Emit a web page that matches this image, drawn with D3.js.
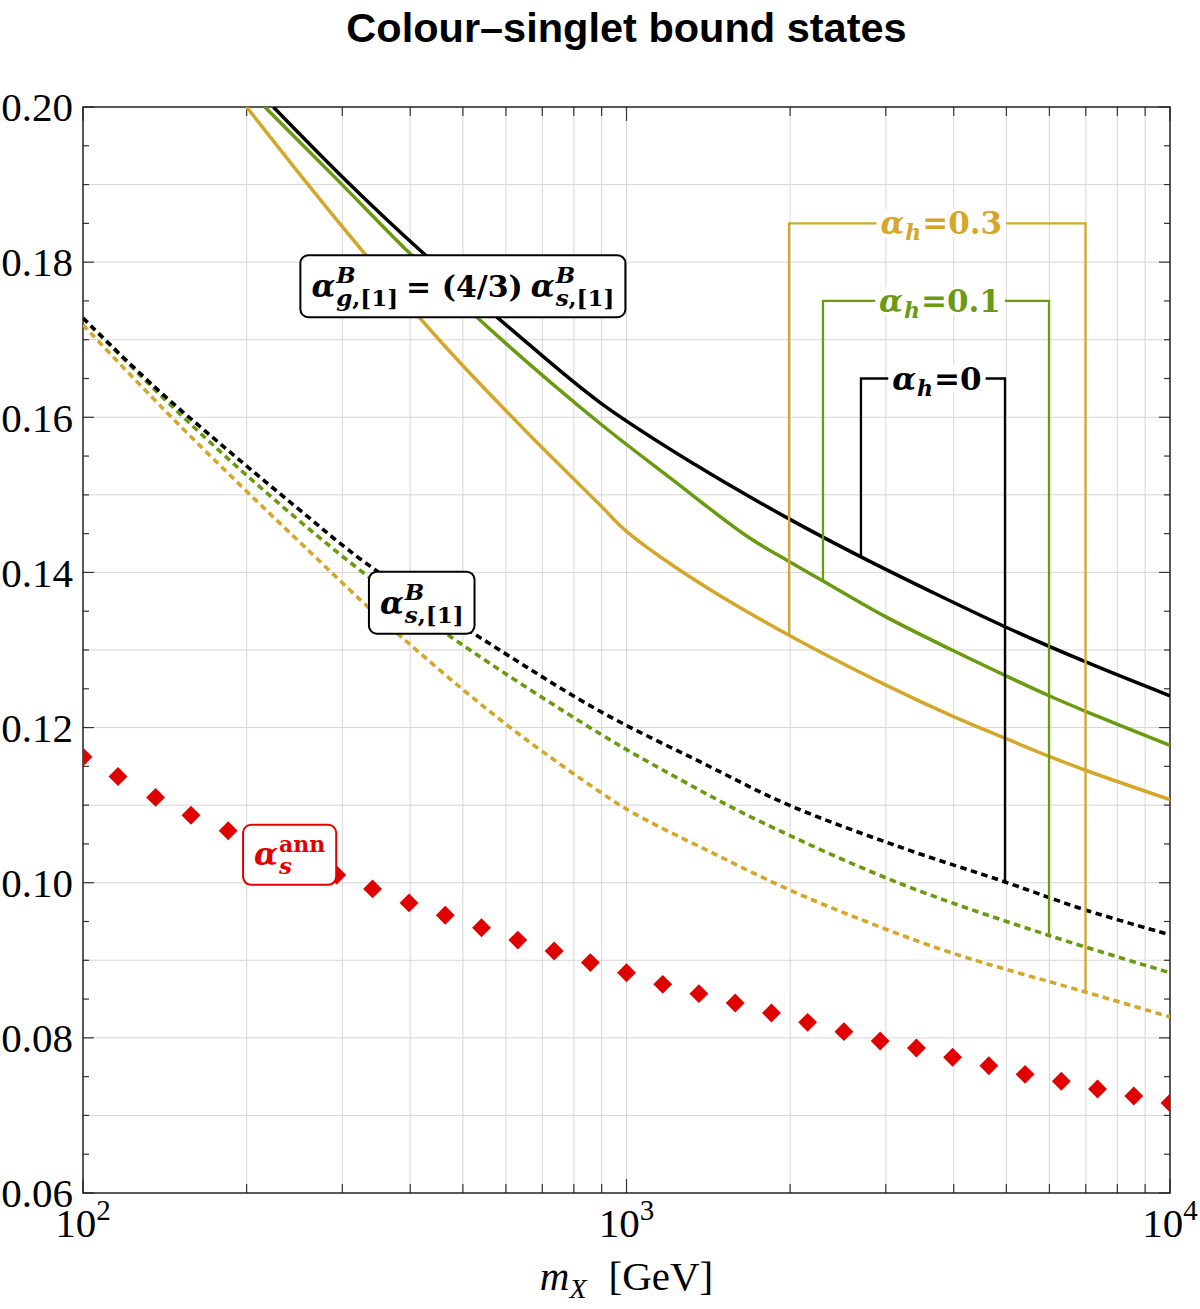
<!DOCTYPE html>
<html>
<head>
<meta charset="utf-8">
<title>Colour-singlet bound states</title>
<script src="https://d3js.org/d3.v7.min.js"></script>
<style>
*{margin:0;padding:0;}
body{background:#fff;}
</style>
</head>
<body>
<script>
var width = 1200, height = 1309;

// alpha_h = 0 (black), solid = alpha_g^B, dotted = alpha_s^B
var massSolid0  = [224, 306, 419, 610, 894, 1337, 1991, 2700, 3664, 4970, 7036, 10000];
var alphaSolid0 = [0.2000, 0.1904, 0.1814, 0.1715, 0.1619, 0.1539, 0.1469, 0.1420, 0.1374, 0.1330, 0.1284, 0.1241];
var massDot0    = [100, 135, 183, 247, 333, 549, 894, 1365, 1991, 3186, 4970, 6977, 10000];
var alphaDot0   = [0.1728, 0.1640, 0.1560, 0.1484, 0.1411, 0.1312, 0.1221, 0.1156, 0.1100, 0.1046, 0.1001, 0.0965, 0.0933];

// alpha_h = 0.1 (green)
var massSolid1  = [216, 292, 397, 585, 894, 1213, 1656, 1991, 2299, 2996, 3997, 4981, 5990, 6991, 10000];
var alphaSolid1 = [0.2000, 0.1908, 0.1813, 0.1702, 0.1592, 0.1520, 0.1448, 0.1414, 0.1389, 0.1343, 0.1299, 0.1267, 0.1241, 0.1221, 0.1177];
var massDot1    = [100, 134, 180, 242, 326, 484, 894, 1255, 1761, 3186, 5990, 10000];
var alphaDot1   = [0.1728, 0.1639, 0.1554, 0.1475, 0.1401, 0.1313, 0.1192, 0.1133, 0.1079, 0.0999, 0.0932, 0.0884];

// alpha_h = 0.3 (gold)
var massSolid3  = [200, 256, 328, 467, 651, 894, 1000, 1365, 1991, 2996, 3997, 4981, 5990, 6991, 10000];
var alphaSolid3 = [0.2000, 0.1905, 0.1813, 0.1689, 0.1583, 0.1487, 0.1453, 0.1386, 0.1319, 0.1255, 0.1214, 0.1186, 0.1163, 0.1145, 0.1107];
var massDot3    = [100, 140, 197, 254, 328, 388, 498, 641, 894, 1028, 1424, 1991, 2805, 3988, 6917, 10000];
var alphaDot3   = [0.1719, 0.1612, 0.1509, 0.1435, 0.1361, 0.1315, 0.1250, 0.1189, 0.1117, 0.1090, 0.1040, 0.0991, 0.0948, 0.0909, 0.0860, 0.0827];

// alpha_s^ann (red diamonds)
var massAnn  = [100, 116, 136, 158, 185, 215, 251, 293, 341, 398, 464, 541, 631, 736, 858, 1000,
                1166, 1359, 1585, 1848, 2154, 2512, 2929, 3415, 3981, 4642, 5412, 6310, 7356, 8577, 10000];
var alphaAnn = [0.1162, 0.1137, 0.1110, 0.1087, 0.1067, 0.1048, 0.1029, 0.1010, 0.0992, 0.0974, 0.0958,
                0.0942, 0.0926, 0.0912, 0.0897, 0.0884, 0.0869, 0.0857, 0.0845, 0.0832, 0.0820, 0.0808,
                0.0796, 0.0787, 0.0775, 0.0764, 0.0753, 0.0744, 0.0734, 0.0725, 0.0716];

// brackets joining solid and dotted curve of same alpha_h
var bracketText  = ["0.3", "0.1", "0"];
var bracketLeft  = [1991, 2299, 2700];
var bracketRight = [6991, 5990, 4970];
var bracketTop   = [0.185, 0.175, 0.165];

var yTicks = [0.06, 0.08, 0.10, 0.12, 0.14, 0.16, 0.18, 0.20];
var xTickExp = [2, 3, 4];

var colBlack = "#000000", colGreen = "#6a9a10", colGold = "#d4a72a", colRed = "#e00000";

var x = d3.scaleLog().domain([100, 10000]).range([83, 1170]);
var y = d3.scaleLinear().domain([0.06, 0.20]).range([1193, 107]);

var svg = d3.select("body").append("svg")
  .attr("width", width).attr("height", height);

svg.append("rect").attr("width", width).attr("height", height).attr("fill", "#fff");

svg.append("defs").append("clipPath").attr("id", "plotclip")
  .append("rect")
  .attr("x", x.range()[0]).attr("y", y.range()[1])
  .attr("width", x.range()[1] - x.range()[0])
  .attr("height", y.range()[0] - y.range()[1]);

// title
svg.append("text")
  .attr("x", (x.range()[0] + x.range()[1]) / 2).attr("y", 42)
  .attr("text-anchor", "middle")
  .style("font-family", "'Liberation Sans', Arial, sans-serif")
  .style("font-weight", "bold").style("font-size", "41.5px")
  .text("Colour\u2013singlet bound states");

// grid
var xMinor = [];
[100, 1000].forEach(function(d){ for (var k = 2; k <= 9; k++) xMinor.push(d * k); });
var xGridVals = xMinor.concat([1000]);
var yGridVals = d3.range(7, 20).map(function(d){ return d / 100; });

var grid = svg.append("g");
grid.selectAll("line.gx").data(xGridVals).enter().append("line")
  .attr("x1", function(d){ return x(d); }).attr("x2", function(d){ return x(d); })
  .attr("y1", y.range()[0]).attr("y2", y.range()[1])
  .attr("stroke", "#d6d6d6").attr("stroke-width", 1);
grid.selectAll("line.gy").data(yGridVals).enter().append("line")
  .attr("x1", x.range()[0]).attr("x2", x.range()[1])
  .attr("y1", function(d){ return y(d); }).attr("y2", function(d){ return y(d); })
  .attr("stroke", "#d6d6d6").attr("stroke-width", 1);

// ticks on all four sides (inward)
var ticks = svg.append("g").attr("stroke", "#333").attr("stroke-width", 1.2);
var xTickVals = xMinor.concat([100, 1000, 10000]);
xTickVals.forEach(function(d){
  var len = ([100, 1000, 10000].indexOf(d) >= 0) ? 14 : 9;
  ticks.append("line").attr("x1", x(d)).attr("x2", x(d)).attr("y1", y.range()[0]).attr("y2", y.range()[0] - len);
  ticks.append("line").attr("x1", x(d)).attr("x2", x(d)).attr("y1", y.range()[1]).attr("y2", y.range()[1] + len);
});
d3.range(12, 41).forEach(function(i){
  var v = i * 0.005;
  var len = (i % 4 === 0) ? 11 : 6;
  ticks.append("line").attr("x1", x.range()[0]).attr("x2", x.range()[0] + len).attr("y1", y(v)).attr("y2", y(v));
  ticks.append("line").attr("x1", x.range()[1]).attr("x2", x.range()[1] - len).attr("y1", y(v)).attr("y2", y(v));
});

// frame
svg.append("rect")
  .attr("x", x.range()[0]).attr("y", y.range()[1])
  .attr("width", x.range()[1] - x.range()[0]).attr("height", y.range()[0] - y.range()[1])
  .attr("fill", "none").attr("stroke", "#222").attr("stroke-width", 1.5);

// tick labels
svg.selectAll("text.ylab").data(yTicks).enter().append("text")
  .attr("x", 73).attr("y", function(d){ return y(d); }).attr("dy", "0.35em")
  .attr("text-anchor", "end")
  .style("font-family", "'Liberation Serif', 'Times New Roman', serif").style("font-size", "41px")
  .text(d3.format(".2f"));

var xl = svg.selectAll("text.xlab").data(xTickExp).enter().append("text")
  .attr("x", function(d){ return x(Math.pow(10, d)); }).attr("y", 1237)
  .attr("text-anchor", "middle")
  .style("font-family", "'Liberation Serif', 'Times New Roman', serif").style("font-size", "41px");
xl.append("tspan").text("10");
xl.append("tspan").attr("dy", -17).style("font-size", "29px").text(function(d){ return d; });

// axis title
var at = svg.append("text")
  .attr("x", (x.range()[0] + x.range()[1]) / 2).attr("y", 1290)
  .attr("text-anchor", "middle")
  .style("font-family", "'Liberation Serif', 'Times New Roman', serif").style("font-size", "41px");
at.append("tspan").style("font-style", "italic").text("m");
at.append("tspan").style("font-style", "italic").style("font-size", "28px").attr("dy", 8).text("X");
at.append("tspan").attr("dy", -8).attr("dx", 22).text("[GeV]");

// curves
var plot = svg.append("g").attr("clip-path", "url(#plotclip)");
var line = d3.line()
  .x(function(d){ return x(d[0]); })
  .y(function(d){ return y(d[1]); })
  .curve(d3.curveCatmullRom.alpha(0.5));

function pairs(ms, as){ return ms.map(function(m, i){ return [m, as[i]]; }); }

var dotted = [
  {m: massDot3, a: alphaDot3, c: colGold},
  {m: massDot1, a: alphaDot1, c: colGreen},
  {m: massDot0, a: alphaDot0, c: colBlack}
];
var solid = [
  {m: massSolid3, a: alphaSolid3, c: colGold},
  {m: massSolid1, a: alphaSolid1, c: colGreen},
  {m: massSolid0, a: alphaSolid0, c: colBlack}
];

dotted.forEach(function(s){
  plot.append("path").attr("d", line(pairs(s.m, s.a)))
    .attr("fill", "none").attr("stroke", s.c).attr("stroke-width", 3.6)
    .attr("stroke-dasharray", "6.5,4.5");
});
solid.forEach(function(s){
  plot.append("path").attr("d", line(pairs(s.m, s.a)))
    .attr("fill", "none").attr("stroke", s.c).attr("stroke-width", 3.5);
});

// red diamonds
plot.selectAll("path.ann").data(pairs(massAnn, alphaAnn)).enter().append("path")
  .attr("d", d3.symbol(d3.symbolSquare, 178))
  .attr("transform", function(d){ return "translate(" + x(d[0]) + "," + y(d[1]) + ") rotate(45)"; })
  .attr("fill", colRed);

// value of a series at a given mass (log-linear between read points)
function valueAt(ms, as, m){
  for (var i = 0; i < ms.length - 1; i++) {
    if (m >= ms[i] && m <= ms[i + 1]) {
      var t = (Math.log(m) - Math.log(ms[i])) / (Math.log(ms[i + 1]) - Math.log(ms[i]));
      return as[i] + t * (as[i + 1] - as[i]);
    }
  }
  return as[as.length - 1];
}

// math label helper: columns of stacked spans
function mathText(g, cols, fill){
  var cx = 0;
  cols.forEach(function(col){
    var w = 0;
    col.spans.forEach(function(sp){
      var t = g.append("text").attr("x", cx).attr("y", sp.dy || 0)
        .attr("fill", fill)
        .style("font-family", "'DejaVu Serif', serif")
        .style("font-weight", "bold")
        .style("font-size", sp.fs + "px");
      sp.segs.forEach(function(s){
        t.append("tspan").style("font-style", s[1] ? "italic" : "normal").text(s[0]);
      });
      w = Math.max(w, t.node().getComputedTextLength());
    });
    cx += w + (col.gap || 0);
  });
  return cx;
}

// brackets
var bColors = [colGold, colGreen, colBlack];
bracketText.forEach(function(txt, i){
  var xl1 = x(bracketLeft[i]), xr1 = x(bracketRight[i]), yt = y(bracketTop[i]);
  var yl = y(valueAt(solid[i].m, solid[i].a, bracketLeft[i]));
  var yr = y(valueAt(dotted[i].m, dotted[i].a, bracketRight[i]));
  var g = svg.append("g");
  g.append("path")
    .attr("d", "M" + xl1 + "," + yl + "V" + yt + "H" + xr1 + "V" + yr)
    .attr("fill", "none").attr("stroke", bColors[i]).attr("stroke-width", 2.3);
  var lg = g.append("g");
  var bg = lg.append("rect").attr("fill", "#fff");
  var tg = lg.append("g");
  mathText(tg, [
    {spans: [{segs: [["\u03b1", 1]], fs: 31}], gap: 1},
    {spans: [{segs: [["h", 1]], fs: 22, dy: 6}], gap: 1},
    {spans: [{segs: [["=" + txt, 0]], fs: 31}]}
  ], bColors[i]);
  var bb = tg.node().getBBox();
  var cxm = (xl1 + xr1) / 2 + 4;
  tg.attr("transform", "translate(" + (cxm - bb.x - bb.width / 2) + "," + (yt + 11) + ")");
  bg.attr("x", cxm - bb.width / 2 - 4).attr("width", bb.width + 8)
    .attr("y", yt - 14).attr("height", 28);
});

// boxed labels
function boxLabel(m, a, cols, col){
  var g = svg.append("g").attr("transform", "translate(" + x(m) + "," + y(a) + ")");
  var rect = g.append("rect");
  var tg = g.append("g");
  mathText(tg, cols, col);
  var bb = tg.node().getBBox();
  tg.attr("transform", "translate(" + (-bb.x - bb.width / 2) + "," + (-bb.y - bb.height / 2) + ")");
  var px = 11, py = 6;
  rect.attr("x", -bb.width / 2 - px).attr("y", -bb.height / 2 - py)
    .attr("width", bb.width + 2 * px).attr("height", bb.height + 2 * py)
    .attr("rx", 8).attr("ry", 8)
    .attr("fill", "#fff").attr("stroke", col).attr("stroke-width", 2);
}

boxLabel(500, 0.1769, [
  {spans: [{segs: [["\u03b1", 1]], fs: 31}], gap: 1},
  {spans: [{segs: [["B", 1]], fs: 23, dy: -14}, {segs: [["g", 1], [",[1]", 0]], fs: 23, dy: 9}], gap: 8},
  {spans: [{segs: [["= (4/3)", 0]], fs: 30}], gap: 8},
  {spans: [{segs: [["\u03b1", 1]], fs: 31}], gap: 1},
  {spans: [{segs: [["B", 1]], fs: 23, dy: -14}, {segs: [["s", 1], [",[1]", 0]], fs: 23, dy: 9}]}
], colBlack);

boxLabel(420, 0.1361, [
  {spans: [{segs: [["\u03b1", 1]], fs: 31}], gap: 1},
  {spans: [{segs: [["B", 1]], fs: 23, dy: -14}, {segs: [["s", 1], [",[1]", 0]], fs: 23, dy: 9}]}
], colBlack);

boxLabel(240, 0.1036, [
  {spans: [{segs: [["\u03b1", 1]], fs: 31}], gap: 1},
  {spans: [{segs: [["ann", 0]], fs: 22, dy: -13}, {segs: [["s", 1]], fs: 23, dy: 9}]}
], colRed);
</script>
</body>
</html>
